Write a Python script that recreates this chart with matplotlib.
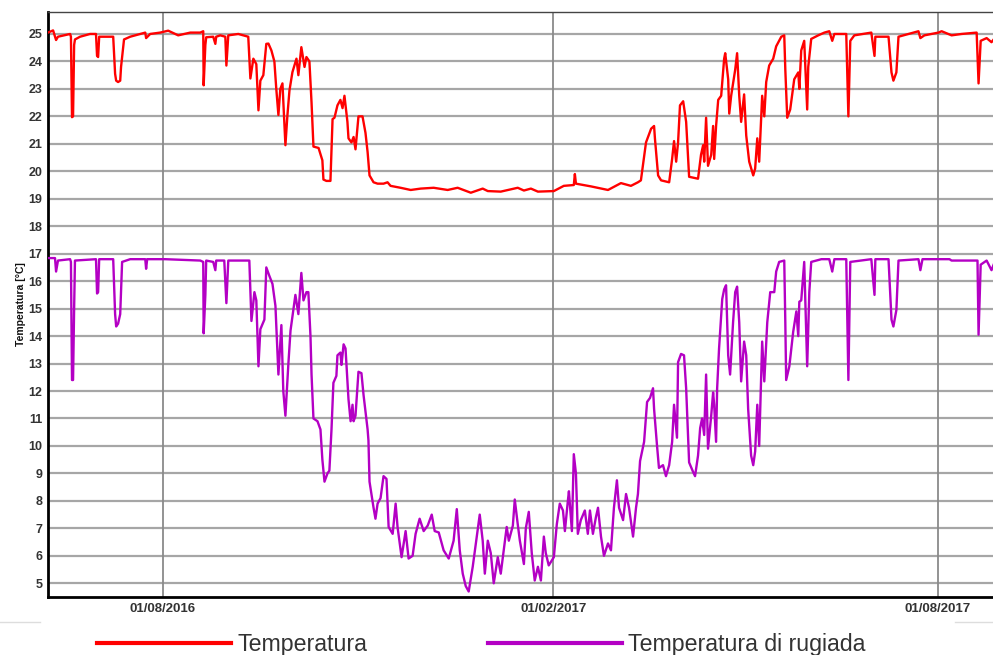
import matplotlib
matplotlib.use("Agg")
import matplotlib.pyplot as plt
import matplotlib.dates as mdates
import pandas as pd
import numpy as np

plt.rcParams['font.family'] = ['Liberation Sans', 'DejaVu Sans']

START = pd.Timestamp("2016-06-08")
X_END = pd.Timestamp("2017-08-27")

# Temperatura: days since START, value in °C
temp_days = [0.0, 2.4, 3.8, 4.7, 10.4, 10.8, 11.3, 11.8, 12.3, 12.7, 15.1, 19.8, 22.6, 23.1, 23.6, 24.1,
             30.7, 31.6, 32.1, 33.0, 34.0, 34.4, 35.8, 38.7, 43.4, 45.8, 46.2, 48.1, 52.8, 56.6, 61.3,
             67.0, 71.7, 73.1, 73.3, 74.1, 74.5, 77.8, 78.8, 79.2, 81.1, 83.5, 84.0, 84.9, 89.6, 94.3,
             95.3, 96.7, 98.1, 99.1, 100.0, 101.4, 102.8, 103.8, 105.2, 106.6, 107.5, 108.5, 109.4,
             110.4, 111.8, 112.7, 113.7, 115.1, 117.0, 117.9, 119.3, 120.8, 121.7, 123.1, 124.1, 125.0,
             127.4, 129.2, 129.7, 131.1, 133.0, 134.0, 134.9, 136.3, 137.7, 138.7, 139.6, 141.0, 141.5,
             142.9, 143.9, 144.8, 146.2, 148.1, 149.5, 150.5, 151.4, 153.3, 155.2, 158.0, 159.9, 161.3,
             166.0, 170.8, 175.5, 181.6, 188.2, 192.9, 199.1, 204.7, 207.1, 213.2, 221.2, 224.1, 227.4,
             230.7, 238.2, 242.9, 247.6, 248.1, 248.6, 255.7, 263.7, 269.8, 274.5, 277.8, 279.2, 281.6,
             284.0, 285.4, 285.8, 287.3, 288.7, 292.5, 293.9, 294.8, 295.8, 296.7, 297.6, 299.1, 300.5,
             301.9, 306.1, 307.5, 308.5, 309.0, 309.9, 310.8, 312.3, 313.2, 313.7, 314.6, 315.6, 317.0,
             318.4, 318.9, 320.3, 320.8, 321.7, 323.6, 324.5, 325.5, 326.4, 327.8, 328.8, 330.2, 332.1,
             333.0, 334.0, 334.9, 336.3, 337.3, 338.2, 339.6, 341.5, 342.9, 345.3, 346.7, 347.2, 348.1,
             349.5, 351.4, 353.3, 353.8, 354.7, 356.1, 357.5, 358.0, 359.4, 362.7, 365.6, 367.9, 369.3,
             370.3, 375.9, 376.9, 377.8, 379.7, 387.7, 389.2, 389.6, 395.8, 397.2, 398.1, 399.5, 400.5,
             405.2, 409.9, 410.8, 412.7, 419.3, 420.8, 425.5, 430.2, 437.3, 438.2, 439.2, 442.0, 444.3,
             445.8]
temp_vals = [25.05, 25.13, 24.78, 24.9, 25.0, 24.9, 21.97, 22.0, 24.6, 24.8, 24.9, 25.0, 25.0, 24.2, 24.16, 24.9,
             24.9, 23.55, 23.3, 23.25, 23.3, 23.8, 24.8, 24.9, 25.0, 25.05, 24.85, 25.0, 25.05, 25.12, 24.95,
             25.05, 25.05, 25.1, 23.13, 24.6, 24.88, 24.9, 24.64, 24.9, 24.95, 24.9, 23.85, 24.95, 25.0, 24.9,
             23.38, 24.1, 23.9, 22.22, 23.3, 23.5, 24.64, 24.65, 24.4, 24.0, 23.0, 22.05, 23.0,
             23.2, 20.95, 22.0, 22.94, 23.61, 24.1, 23.5, 24.52, 23.8, 24.16, 24.0, 22.5, 20.9,
             20.85, 20.4, 19.7, 19.65, 19.65, 21.9, 21.95, 22.4, 22.6, 22.3, 22.75, 21.8, 21.2,
             21.05, 21.25, 20.8, 22.0, 22.0, 21.4, 20.7, 19.85, 19.6, 19.55, 19.55, 19.6, 19.47,
             19.4, 19.32, 19.37, 19.4, 19.32, 19.4, 19.22, 19.37, 19.28, 19.26, 19.4, 19.3, 19.37,
             19.26, 19.28, 19.47, 19.5, 19.9, 19.55, 19.45, 19.32, 19.57, 19.47, 19.6, 19.67, 21.05,
             21.55, 21.65, 21.2, 19.85, 19.67, 19.6, 20.45, 21.1, 20.35, 21.05, 22.4, 22.55, 21.8,
             19.8, 19.73, 20.6, 20.95, 20.35, 21.95, 20.2, 20.6, 21.65, 20.45, 21.65, 22.6, 22.75,
             24.1, 24.3, 23.35, 22.1, 22.75, 23.7, 24.3, 22.75, 21.8, 22.8, 21.3, 20.35, 19.85,
             20.1, 21.2, 20.35, 22.75, 22.0, 23.25, 23.85, 24.1, 24.55, 24.9, 24.95, 23.7, 21.95,
             22.25, 23.35, 23.6, 23.0, 24.4, 24.75, 22.25, 23.8, 24.82, 24.95, 25.05, 25.1, 24.75,
             25.0, 25.0, 22.0, 24.75, 24.95, 25.05, 24.2, 24.9, 24.9, 23.6, 23.3, 23.6, 24.9,
             25.0, 25.1, 24.85, 24.95, 25.05, 25.1, 24.95, 25.0, 25.05, 23.2, 24.75, 24.85, 24.7,
             24.85]

# Temperatura di rugiada: days since START, value in °C
dew_days = [0.0, 3.3, 3.8, 4.7, 10.4, 10.8, 11.3, 11.8, 12.3, 12.7, 22.6, 23.1, 23.6, 24.1, 30.7, 31.6,
            32.1, 33.0, 34.0, 34.9, 38.7, 45.8, 46.2, 46.7, 55.2, 71.7, 73.1, 73.3, 74.1, 74.5, 77.8,
            78.8, 79.2, 83.0, 84.0, 84.9, 94.8, 95.8, 97.2, 98.1, 99.1, 100.0, 101.9, 102.8, 104.2,
            105.7, 107.1, 108.5, 109.9, 110.8, 111.8, 113.2, 114.2, 115.6, 116.5, 117.9, 119.3, 120.3,
            121.7, 122.6, 123.6, 124.1, 125.0, 126.9, 128.3, 129.2, 130.2, 131.6, 132.5, 133.5, 134.4,
            135.8, 136.3, 137.7, 138.2, 139.2, 140.1, 141.0, 141.5, 142.5, 143.4, 143.9, 144.8, 146.2,
            147.6, 148.6, 150.5, 150.9, 151.4, 153.3, 154.2, 155.2, 156.6, 158.0, 159.4, 160.4, 162.3,
            163.7, 164.6, 166.5, 168.4, 169.8, 171.7, 173.1, 175.0, 176.9, 178.8, 180.7, 182.1, 184.0,
            186.3, 188.7, 191.0, 192.5, 193.9, 195.3, 196.7, 198.1, 200.0, 201.9, 203.3, 204.7, 205.7,
            207.1, 208.5, 209.9, 211.8, 213.2, 214.6, 216.0, 217.0, 218.9, 219.8, 221.2, 222.2, 224.1,
            225.0, 226.4, 227.8, 229.2, 230.7, 232.1, 233.5, 234.4, 235.8, 238.2, 239.6, 241.0, 242.5,
            243.4, 244.8, 245.3, 246.7, 247.6, 248.6, 249.5, 250.9, 252.8, 254.2, 255.2, 256.6, 258.0,
            259.0, 260.4, 261.8, 263.7, 265.1, 266.5, 267.9, 268.9, 270.8, 272.2, 273.6, 275.5, 276.9,
            277.8, 278.8, 280.7, 282.1, 283.5, 284.9, 285.4, 286.8, 287.7, 289.6, 291.0, 292.5, 293.9,
            294.8, 296.2, 296.7, 298.1, 299.5, 300.5, 301.9, 303.8, 304.7, 306.1, 307.1, 308.0, 309.0,
            309.9, 310.8, 312.3, 313.2, 313.7, 314.6, 315.1, 316.0, 317.5, 318.4, 319.3, 320.3, 321.2,
            322.6, 323.6, 324.5, 325.5, 326.4, 327.8, 328.8, 329.7, 331.1, 332.1, 333.0, 334.0, 334.9,
            336.3, 337.3, 338.7, 340.1, 342.0, 342.9, 344.3, 346.7, 347.2, 347.6, 349.1, 350.9, 352.4,
            353.3, 353.8, 354.7, 356.1, 357.5, 358.5, 359.4, 364.2, 367.9, 369.3, 370.3, 375.9, 376.9,
            377.8, 387.7, 389.2, 389.6, 395.8, 397.2, 398.1, 399.5, 400.5, 409.9, 410.8, 411.8, 424.5,
            425.5, 437.7, 438.2, 439.2, 442.0, 444.3, 445.8]
dew_vals = [16.84, 16.84, 16.35, 16.75, 16.8, 16.7, 12.4, 12.4, 15.0, 16.75, 16.8, 15.55, 15.6, 16.8, 16.8, 14.8,
            14.35, 14.45, 14.8, 16.7, 16.8, 16.8, 16.45, 16.8, 16.8, 16.75, 16.7, 14.1, 15.5, 16.75, 16.7,
            16.4, 16.75, 16.75, 15.2, 16.75, 16.75, 14.55, 15.6, 15.3, 12.9, 14.25, 14.6, 16.5, 16.2,
            15.9, 15.1, 12.6, 14.4, 12.0, 11.1, 13.0, 14.2, 15.0, 15.5, 14.8, 16.3, 15.3,
            15.6, 15.6, 14.0, 12.6, 11.0, 10.9, 10.6, 9.5, 8.7, 9.0, 9.1, 10.6, 12.3,
            12.55, 13.3, 13.4, 12.95, 13.7, 13.55, 12.35, 11.7, 10.9, 11.5, 10.9, 11.1, 12.7,
            12.65, 11.85, 10.6, 10.2, 8.7, 7.75, 7.35, 7.9, 8.1, 8.9, 8.8, 7.05, 6.8,
            7.9, 7.05, 5.95, 6.9, 5.9, 6.0, 6.8, 7.35, 6.9, 7.1, 7.5, 6.9, 6.85,
            6.2, 5.9, 6.55, 7.7, 6.2, 5.35, 4.9, 4.7, 5.6, 6.7, 7.5, 6.55, 5.35,
            6.55, 6.1, 5.0, 5.95, 5.35, 6.2, 7.05, 6.55, 7.1, 8.05, 7.15, 6.55, 5.7,
            7.0, 7.6, 6.1, 5.1, 5.6, 5.1, 6.7, 6.1, 5.65, 5.95, 7.15, 7.9, 7.65,
            6.9, 8.0, 8.35, 6.9, 9.7, 9.0, 6.8, 7.3, 7.65, 6.8, 7.65, 6.8, 7.4,
            7.75, 6.7, 6.0, 6.45, 6.2, 7.75, 8.75, 7.75, 7.3, 8.25, 7.75, 6.7, 7.75,
            8.25, 9.45, 10.15, 11.6, 11.75, 12.1, 11.35, 10.0, 9.2, 9.3, 8.9, 9.3, 10.15,
            11.5, 10.3, 13.05, 13.35, 13.3, 12.1, 9.4, 9.05, 8.9, 9.65, 10.65, 11.0, 10.4,
            12.6, 9.9, 11.1, 11.95, 11.5, 10.15, 12.1, 13.55, 15.35, 15.7, 15.85, 13.3, 12.6,
            14.5, 15.6, 15.8, 14.5, 12.35, 13.8, 13.3, 11.35, 9.65, 9.3, 9.8, 11.5, 10.0,
            13.8, 12.35, 14.5, 15.6, 15.6, 16.35, 16.7, 16.75, 14.5, 12.4, 12.9, 14.15, 14.9,
            14.0, 15.25, 15.3, 16.7, 12.9, 15.6, 16.7, 16.8, 16.8, 16.35, 16.8, 16.8, 12.4,
            16.7, 16.8, 15.5, 16.8, 16.8, 14.6, 14.35, 14.95, 16.75, 16.8, 16.4, 16.8, 16.8,
            16.75, 16.75, 14.05, 16.6, 16.75, 16.4, 16.7]

y_ticks = list(range(5, 26))
x_ticks = ["2016-08-01", "2017-02-01", "2017-08-01"]

temp_x = START + pd.to_timedelta(temp_days, unit="D")
dew_x = START + pd.to_timedelta(dew_days, unit="D")

fig = plt.figure(figsize=(9.93, 6.55), dpi=100)
ax = fig.add_axes([48/993, 1-597/655, 1-48/993, (597-12)/655])

l1, = ax.plot(temp_x, temp_vals, color="#ff0000", lw=1.7, label="Temperatura", zorder=3)
l2, = ax.plot(dew_x, dew_vals, color="#b400c4", lw=1.7, label="Temperatura di rugiada", zorder=3)

ax.set_xlim(START, X_END)
ax.set_ylim(4.5, 25.8)
ax.set_yticks(y_ticks)
ax.set_xticks(pd.to_datetime(x_ticks))
ax.xaxis.set_major_formatter(mdates.DateFormatter("%d/%m/%Y"))

for v in y_ticks:
    ax.axhline(v, color="#a6a6a6", lw=1.6, zorder=1)
for d in pd.to_datetime(x_ticks):
    ax.axvline(d, color="#8a8a8a", lw=1.3, zorder=1)

ax.tick_params(axis="both", length=0, colors="#333333")
ax.tick_params(axis="y", pad=4, labelsize=9)
ax.tick_params(axis="x", pad=4, labelsize=9.5)
for lab in ax.get_xticklabels() + ax.get_yticklabels():
    lab.set_fontweight("bold")

ax.set_ylabel("Temperatura [°C]", fontsize=7.5, fontweight="bold", color="#111111", labelpad=2)

ax.spines["right"].set_visible(False)
ax.spines["left"].set_linewidth(2.0)
ax.spines["bottom"].set_linewidth(2.0)
ax.spines["top"].set_linewidth(1.0)
ax.spines["top"].set_color("#444444")

# separator line fragments
fig.add_artist(plt.Line2D([0, 40/993], [1-622/655, 1-622/655], color="#dddddd", lw=1))
fig.add_artist(plt.Line2D([955/993, 1], [1-622/655, 1-622/655], color="#dddddd", lw=1))

leg = fig.legend(handles=[l1, l2], loc="center", bbox_to_anchor=(481/993, 1-645/655),
                 ncol=2, frameon=False, fontsize=16.7, handlelength=5.8, handletextpad=0.26,
                 columnspacing=5.2, borderaxespad=0, borderpad=0)
for line in leg.get_lines():
    line.set_linewidth(3.0)
for t in leg.get_texts():
    t.set_color("#333333")

fig.savefig("out.png", dpi=100)
